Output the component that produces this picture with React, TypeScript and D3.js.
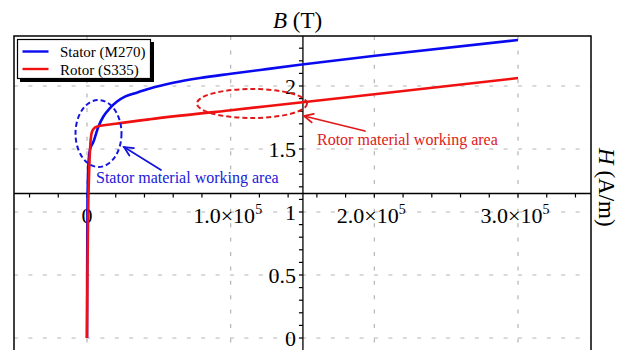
import React from "react";
import * as d3 from "d3";

// B-H magnetisation curves (H in A/m, B in T)
const statorH = [0, 100, 300, 600, 1200, 2200, 4400, 7900, 11300, 16000, 20700, 26400, 34600, 43800, 60000, 78600, 100200, 125000, 148200, 199000, 300000];
const statorB = [0, 0.5, 1.0, 1.25, 1.42, 1.5, 1.555, 1.677, 1.756, 1.825, 1.875, 1.915, 1.947, 1.98, 2.025, 2.063, 2.097, 2.134, 2.168, 2.238, 2.365];

const rotorH = [0, 300, 800, 1300, 1800, 2400, 3300, 5000, 6750, 20000, 43800, 100000, 150000, 200000, 300000];
const rotorB = [0, 0.5, 1.0, 1.25, 1.42, 1.55, 1.63, 1.665, 1.677, 1.70, 1.736, 1.808, 1.871, 1.935, 2.063];

const seriesNames = ["Stator (M270)", "Rotor (S335)"];
const seriesColors = ["#0a0af0", "#f01010"];

const xMajorTicks = [0, 100000, 200000, 300000];
const xMajorLabels = ["0", "1.0×10", "2.0×10", "3.0×10"];
const yMajorTicks = [0, 0.5, 1, 1.5, 2];
const yMajorLabels = ["0", "0.5", "1", "1.5", "2"];

const axisCrossB = 1.147;
const axisCrossH = 150300;

const W = 629;
const H = 350;
const frame = { left: 14, top: 36, right: 591, bottom: 352 };

const x = d3.scaleLinear().domain([0, 300000]).range([87, 518]);
const y = d3.scaleLinear().domain([0, 2]).range([338, 86]);

const FONT = "'Liberation Serif', 'Times New Roman', serif";

function Arrow({ x1, y1, x2, y2, color }: { x1: number; y1: number; x2: number; y2: number; color: string }) {
  const ang = Math.atan2(y2 - y1, x2 - x1);
  const len = 10;
  const spread = 0.45;
  const a1 = ang + Math.PI - spread;
  const a2 = ang + Math.PI + spread;
  return (
    <g stroke={color} strokeWidth={1.8} fill="none" strokeLinecap="round">
      <line x1={x1} y1={y1} x2={x2} y2={y2} />
      <polyline
        points={`${x2 + len * Math.cos(a1)},${y2 + len * Math.sin(a1)} ${x2},${y2} ${x2 + len * Math.cos(a2)},${y2 + len * Math.sin(a2)}`}
      />
    </g>
  );
}

export default function App() {
  const line = d3
    .line<[number, number]>()
    .x((d) => x(d[0]))
    .y((d) => y(d[1]))
    .curve(d3.curveMonotoneX);

  const stator = line(statorH.map((h, i) => [h, statorB[i]] as [number, number])) || "";
  const rotor = line(rotorH.map((h, i) => [h, rotorB[i]] as [number, number])) || "";

  const xAxisY = y(axisCrossB);
  const yAxisX = x(axisCrossH);

  const xMinor = d3.range(-40000, 350001, 20000);
  const yMinor = d3.range(0, 24).map((k) => k / 10);

  const gridStyle = { stroke: "#b4b4b4", strokeWidth: 1.2, strokeDasharray: "4 10.4" };

  return (
    <svg
      width={W}
      height={H}
      viewBox={`0 0 ${W} ${H}`}
      style={{ position: "absolute", left: 0, top: 0, background: "#fff" }}
      fontFamily={FONT}
    >
      <rect x={0} y={0} width={W} height={H} fill="#fff" />

      {/* grid */}
      {yMajorTicks.map((v) => (
        <line key={"gy" + v} x1={frame.left} x2={frame.right} y1={y(v)} y2={y(v)} {...gridStyle} />
      ))}
      {xMajorTicks.map((v) => (
        <line key={"gx" + v} x1={x(v)} x2={x(v)} y1={frame.top} y2={frame.bottom} {...gridStyle} />
      ))}

      {/* axes through the plot */}
      <line x1={frame.left} x2={frame.right} y1={xAxisY} y2={xAxisY} stroke="#000" strokeWidth={1.3} />
      <line x1={yAxisX} x2={yAxisX} y1={frame.top} y2={frame.bottom} stroke="#000" strokeWidth={1.3} />
      {xMinor.map((v) => (
        <line key={"tx" + v} x1={x(v)} x2={x(v)} y1={xAxisY} y2={xAxisY + 4} stroke="#000" strokeWidth={1.2} />
      ))}
      {yMinor.map((v) => (
        <line key={"ty" + v} x1={yAxisX - 4} x2={yAxisX} y1={y(v)} y2={y(v)} stroke="#000" strokeWidth={1.2} />
      ))}

      {/* tick labels */}
      {xMajorTicks.map((v, i) => (
        <text key={"lx" + v} x={x(v) + (i === 0 ? 0 : -3)} y={223} fontSize={22} textAnchor="middle" fill="#000">
          {xMajorLabels[i]}
          {i > 0 && (
            <tspan fontSize={14} dy={-9}>
              5
            </tspan>
          )}
        </text>
      ))}
      {yMajorTicks.map((v, i) => (
        <text key={"ly" + v} x={296} y={y(v) + 7.5} fontSize={22} textAnchor="end" fill="#000">
          {yMajorLabels[i]}
        </text>
      ))}

      {/* curves */}
      <path d={stator} fill="none" stroke={seriesColors[0]} strokeWidth={2.6} strokeLinejoin="round" />
      <path d={rotor} fill="none" stroke={seriesColors[1]} strokeWidth={2.6} strokeLinejoin="round" />

      {/* working-area annotations */}
      <ellipse cx={98.5} cy={133.5} rx={23} ry={33.5} fill="none" stroke="#1515e0" strokeWidth={2} strokeDasharray="5 3" />
      <Arrow x1={161} y1={170} x2={124} y2={147} color="#1515e0" />
      <text x={96} y={183} fontSize={16} fill="#2020d8">
        Stator material working area
      </text>

      <ellipse cx={252} cy={103.5} rx={55} ry={14.5} fill="none" stroke="#e01818" strokeWidth={2} strokeDasharray="5 3" />
      <Arrow x1={365} y1={131} x2={304} y2={116} color="#e01818" />
      <text x={317} y={145} fontSize={16} fill="#e02020">
        Rotor material working area
      </text>

      {/* frame */}
      <rect
        x={frame.left}
        y={frame.top}
        width={frame.right - frame.left}
        height={frame.bottom - frame.top}
        fill="none"
        stroke="#000"
        strokeWidth={1.5}
      />

      {/* legend */}
      <rect x={20} y={42} width={134} height={40} fill="#000" />
      <rect x={17.5} y={39.5} width={133} height={39} fill="#fff" stroke="#000" strokeWidth={1.2} />
      {seriesNames.map((name, i) => (
        <g key={name}>
          <line x1={22.5} x2={48.5} y1={51.5 + i * 17.5} y2={51.5 + i * 17.5} stroke={seriesColors[i]} strokeWidth={2.4} />
          <text x={60} y={57 + i * 17.5} fontSize={15} fill="#000">
            {name}
          </text>
        </g>
      ))}

      {/* axis titles */}
      <text x={273} y={28} fontSize={23} fill="#000">
        <tspan fontStyle="italic">B</tspan> (T)
      </text>
      <text transform="translate(599,148) rotate(90)" fontSize={23} fill="#000">
        <tspan fontStyle="italic">H</tspan> (A/m)
      </text>
    </svg>
  );
}
